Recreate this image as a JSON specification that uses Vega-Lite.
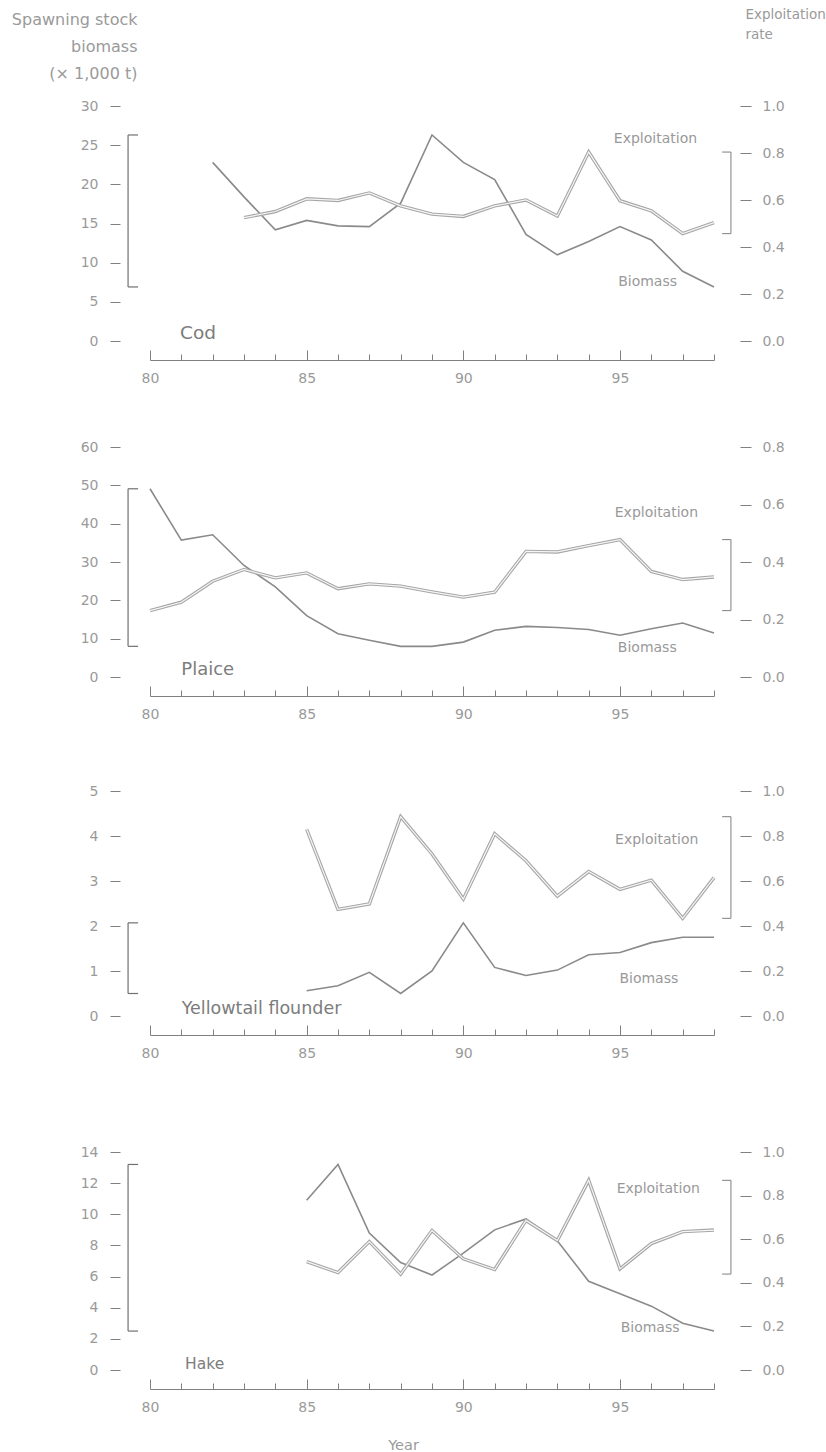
{
  "$schema": "https://vega.github.io/schema/vega-lite/v6.json",
  "padding": {"left": 11, "top": 7, "right": 0, "bottom": 0},
  "spacing": 51,
  "datasets": {
    "stock": [
      {"species": "Cod", "year": 82, "biomass": 22.8, "exploitation": null},
      {"species": "Cod", "year": 83, "biomass": 18.4, "exploitation": 0.525},
      {"species": "Cod", "year": 84, "biomass": 14.2, "exploitation": 0.551},
      {"species": "Cod", "year": 85, "biomass": 15.4, "exploitation": 0.605},
      {"species": "Cod", "year": 86, "biomass": 14.7, "exploitation": 0.598},
      {"species": "Cod", "year": 87, "biomass": 14.6, "exploitation": 0.63},
      {"species": "Cod", "year": 88, "biomass": 17.6, "exploitation": 0.575},
      {"species": "Cod", "year": 89, "biomass": 26.3, "exploitation": 0.54},
      {"species": "Cod", "year": 90, "biomass": 22.8, "exploitation": 0.53},
      {"species": "Cod", "year": 91, "biomass": 20.6, "exploitation": 0.575},
      {"species": "Cod", "year": 92, "biomass": 13.6, "exploitation": 0.6},
      {"species": "Cod", "year": 93, "biomass": 11.0, "exploitation": 0.532},
      {"species": "Cod", "year": 94, "biomass": 12.7, "exploitation": 0.804},
      {"species": "Cod", "year": 95, "biomass": 14.6, "exploitation": 0.597},
      {"species": "Cod", "year": 96, "biomass": 12.9, "exploitation": 0.554},
      {"species": "Cod", "year": 97, "biomass": 8.9, "exploitation": 0.457},
      {"species": "Cod", "year": 98, "biomass": 6.9, "exploitation": 0.504},
      {"species": "Plaice", "year": 80, "biomass": 49.1, "exploitation": 0.231},
      {"species": "Plaice", "year": 81, "biomass": 35.7, "exploitation": 0.26},
      {"species": "Plaice", "year": 82, "biomass": 37.1, "exploitation": 0.333},
      {"species": "Plaice", "year": 83, "biomass": 29.1, "exploitation": 0.374},
      {"species": "Plaice", "year": 84, "biomass": 23.5, "exploitation": 0.345},
      {"species": "Plaice", "year": 85, "biomass": 16.0, "exploitation": 0.362},
      {"species": "Plaice", "year": 86, "biomass": 11.3, "exploitation": 0.307},
      {"species": "Plaice", "year": 87, "biomass": 9.6, "exploitation": 0.324},
      {"species": "Plaice", "year": 88, "biomass": 8.0, "exploitation": 0.316},
      {"species": "Plaice", "year": 89, "biomass": 8.0, "exploitation": 0.296},
      {"species": "Plaice", "year": 90, "biomass": 9.1, "exploitation": 0.278},
      {"species": "Plaice", "year": 91, "biomass": 12.2, "exploitation": 0.295},
      {"species": "Plaice", "year": 92, "biomass": 13.2, "exploitation": 0.437},
      {"species": "Plaice", "year": 93, "biomass": 12.9, "exploitation": 0.435},
      {"species": "Plaice", "year": 94, "biomass": 12.4, "exploitation": 0.457},
      {"species": "Plaice", "year": 95, "biomass": 10.9, "exploitation": 0.478},
      {"species": "Plaice", "year": 96, "biomass": 12.6, "exploitation": 0.367},
      {"species": "Plaice", "year": 97, "biomass": 14.1, "exploitation": 0.339},
      {"species": "Plaice", "year": 98, "biomass": 11.5, "exploitation": 0.348},
      {"species": "Yellowtail flounder", "year": 85, "biomass": 0.56, "exploitation": 0.83},
      {"species": "Yellowtail flounder", "year": 86, "biomass": 0.67, "exploitation": 0.474},
      {"species": "Yellowtail flounder", "year": 87, "biomass": 0.97, "exploitation": 0.498},
      {"species": "Yellowtail flounder", "year": 88, "biomass": 0.5, "exploitation": 0.886},
      {"species": "Yellowtail flounder", "year": 89, "biomass": 1.0, "exploitation": 0.72},
      {"species": "Yellowtail flounder", "year": 90, "biomass": 2.07, "exploitation": 0.52},
      {"species": "Yellowtail flounder", "year": 91, "biomass": 1.08, "exploitation": 0.81},
      {"species": "Yellowtail flounder", "year": 92, "biomass": 0.9, "exploitation": 0.69},
      {"species": "Yellowtail flounder", "year": 93, "biomass": 1.02, "exploitation": 0.533},
      {"species": "Yellowtail flounder", "year": 94, "biomass": 1.36, "exploitation": 0.642},
      {"species": "Yellowtail flounder", "year": 95, "biomass": 1.41, "exploitation": 0.563},
      {"species": "Yellowtail flounder", "year": 96, "biomass": 1.63, "exploitation": 0.604},
      {"species": "Yellowtail flounder", "year": 97, "biomass": 1.75, "exploitation": 0.434},
      {"species": "Yellowtail flounder", "year": 98, "biomass": 1.75, "exploitation": 0.615},
      {"species": "Hake", "year": 85, "biomass": 10.9, "exploitation": 0.497},
      {"species": "Hake", "year": 86, "biomass": 13.2, "exploitation": 0.447},
      {"species": "Hake", "year": 87, "biomass": 8.8, "exploitation": 0.589},
      {"species": "Hake", "year": 88, "biomass": 6.9, "exploitation": 0.44},
      {"species": "Hake", "year": 89, "biomass": 6.1, "exploitation": 0.64},
      {"species": "Hake", "year": 90, "biomass": 7.5, "exploitation": 0.51},
      {"species": "Hake", "year": 91, "biomass": 9.0, "exploitation": 0.461},
      {"species": "Hake", "year": 92, "biomass": 9.7, "exploitation": 0.686},
      {"species": "Hake", "year": 93, "biomass": 8.3, "exploitation": 0.594},
      {"species": "Hake", "year": 94, "biomass": 5.7, "exploitation": 0.87},
      {"species": "Hake", "year": 95, "biomass": 4.9, "exploitation": 0.464},
      {"species": "Hake", "year": 96, "biomass": 4.1, "exploitation": 0.58},
      {"species": "Hake", "year": 97, "biomass": 3.0, "exploitation": 0.635},
      {"species": "Hake", "year": 98, "biomass": 2.5, "exploitation": 0.642}
    ]
  },
  "vconcat": [
    {
      "width": 564, "height": 235,
      "data": {"name": "stock"},
      "transform": [{"filter": "datum.species === 'Cod'"}],
      "resolve": {"scale": {"y": "independent"}},
      "layer": [
        {"layer": [
          {"mark": {"type": "line", "color": "#8a8a8a", "strokeWidth": 1.6},
           "encoding": {
             "x": {"field": "year", "type": "quantitative", "scale": {"domain": [80, 98], "nice": false, "zero": false},
                   "axis": {"values": [80,81,82,83,84,85,86,87,88,89,90,91,92,93,94,95,96,97,98], "tickCount": 100, "labelOverlap": false, "labelExpr": "datum.value % 5 === 0 ? format(datum.value, 'd') : ''", "tickSize": {"condition": {"test": "datum.value % 5 === 0", "value": -10}, "value": -6}, "title": null}},
             "y": {"field": "biomass", "type": "quantitative", "scale": {"domain": [0, 30], "nice": false},
                   "axis": {"orient": "left", "values": [0,5,10,15,20,25,30], "format": "d", "tickCount": 100, "labelOverlap": false, "title": ["Spawning stock", "biomass", "(× 1,000 t)"], "titleAngle": 0, "titleAlign": "right", "titleBaseline": "top", "titleX": 17, "titleY": -95, "titleFontSize": 16, "titleLineHeight": 27}}
           }},
          {"mark": {"type": "rule", "color": "#707070", "strokeWidth": 1.2},
           "encoding": {"x": {"datum": 79.3}, "y": {"aggregate": "min", "field": "biomass", "type": "quantitative"}, "y2": {"aggregate": "max", "field": "biomass"}}},
          {"mark": {"type": "rule", "color": "#707070", "strokeWidth": 1.2},
           "encoding": {"x": {"datum": 79.3}, "x2": {"datum": 79.62}, "y": {"aggregate": "min", "field": "biomass", "type": "quantitative"}}},
          {"mark": {"type": "rule", "color": "#707070", "strokeWidth": 1.2},
           "encoding": {"x": {"datum": 79.3}, "x2": {"datum": 79.62}, "y": {"aggregate": "max", "field": "biomass", "type": "quantitative"}}},
          {"transform": [{"filter": "datum.year === 98"}],
           "mark": {"type": "text", "align": "right", "baseline": "middle", "fontSize": 14, "color": "#999999", "text": "Biomass"},
           "encoding": {"x": {"datum": 96.82}, "y": {"datum": 7.53}}},
          {"transform": [{"filter": "datum.year === 98"}],
           "mark": {"type": "text", "align": "left", "baseline": "alphabetic", "fontSize": 18.5, "color": "#7c7c7c", "text": "Cod", "dy": -2},
           "encoding": {"x": {"datum": 80.96}, "y": {"datum": 0}}}
        ]},
        {"layer": [
          {"mark": {"type": "line", "color": "#a6a6a6", "strokeWidth": 3.4},
           "encoding": {
             "x": {"field": "year", "type": "quantitative"},
             "y": {"field": "exploitation", "type": "quantitative", "scale": {"domain": [0, 1], "nice": false},
                   "axis": {"orient": "right", "values": [0,0.2,0.4,0.6,0.8,1.0], "tickCount": 100, "labelOverlap": false, "format": ".1f", "title": ["Exploitation", "rate"], "titleAngle": 0, "titleAlign": "left", "titleBaseline": "top", "titleX": 5, "titleY": -99, "titleFontSize": 13.5, "titleLineHeight": 20}}
           }},
          {"mark": {"type": "line", "color": "#f6f6f6", "strokeWidth": 1.2},
           "encoding": {"x": {"field": "year", "type": "quantitative"}, "y": {"field": "exploitation", "type": "quantitative"}}},
          {"mark": {"type": "rule", "color": "#8a8a8a", "strokeWidth": 1.1},
           "encoding": {"x": {"datum": 98.54}, "y": {"aggregate": "min", "field": "exploitation", "type": "quantitative"}, "y2": {"aggregate": "max", "field": "exploitation"}}},
          {"mark": {"type": "rule", "color": "#8a8a8a", "strokeWidth": 1.1},
           "encoding": {"x": {"datum": 98.26}, "x2": {"datum": 98.54}, "y": {"aggregate": "min", "field": "exploitation", "type": "quantitative"}}},
          {"mark": {"type": "rule", "color": "#8a8a8a", "strokeWidth": 1.1},
           "encoding": {"x": {"datum": 98.26}, "x2": {"datum": 98.54}, "y": {"aggregate": "max", "field": "exploitation", "type": "quantitative"}}},
          {"transform": [{"filter": "datum.year === 98"}],
           "mark": {"type": "text", "align": "right", "baseline": "middle", "fontSize": 14, "color": "#999999", "text": "Exploitation"},
           "encoding": {"x": {"datum": 97.46}, "y": {"datum": 0.86}}}
        ]}
      ]
    },
    {
      "width": 564, "height": 230,
      "data": {"name": "stock"},
      "transform": [{"filter": "datum.species === 'Plaice'"}],
      "resolve": {"scale": {"y": "independent"}},
      "layer": [
        {"layer": [
          {"mark": {"type": "line", "color": "#8a8a8a", "strokeWidth": 1.6},
           "encoding": {
             "x": {"field": "year", "type": "quantitative", "scale": {"domain": [80, 98], "nice": false, "zero": false},
                   "axis": {"values": [80,81,82,83,84,85,86,87,88,89,90,91,92,93,94,95,96,97,98], "tickCount": 100, "labelOverlap": false, "labelExpr": "datum.value % 5 === 0 ? format(datum.value, 'd') : ''", "tickSize": {"condition": {"test": "datum.value % 5 === 0", "value": -10}, "value": -6}, "title": " ", "titleFontSize": 4, "titleBaseline": "top", "titleY": 33, "titleX": 10}},
             "y": {"field": "biomass", "type": "quantitative", "scale": {"domain": [0, 60], "nice": false},
                   "axis": {"orient": "left", "values": [0,10,20,30,40,50,60], "format": "d", "tickCount": 100, "labelOverlap": false, "title": null}}
           }},
          {"mark": {"type": "rule", "color": "#707070", "strokeWidth": 1.2},
           "encoding": {"x": {"datum": 79.3}, "y": {"aggregate": "min", "field": "biomass", "type": "quantitative"}, "y2": {"aggregate": "max", "field": "biomass"}}},
          {"mark": {"type": "rule", "color": "#707070", "strokeWidth": 1.2},
           "encoding": {"x": {"datum": 79.3}, "x2": {"datum": 79.62}, "y": {"aggregate": "min", "field": "biomass", "type": "quantitative"}}},
          {"mark": {"type": "rule", "color": "#707070", "strokeWidth": 1.2},
           "encoding": {"x": {"datum": 79.3}, "x2": {"datum": 79.62}, "y": {"aggregate": "max", "field": "biomass", "type": "quantitative"}}},
          {"transform": [{"filter": "datum.year === 98"}],
           "mark": {"type": "text", "align": "right", "baseline": "middle", "fontSize": 14, "color": "#999999", "text": "Biomass"},
           "encoding": {"x": {"datum": 96.81}, "y": {"datum": 7.49}}},
          {"transform": [{"filter": "datum.year === 98"}],
           "mark": {"type": "text", "align": "left", "baseline": "alphabetic", "fontSize": 18, "color": "#7c7c7c", "text": "Plaice", "dy": -2},
           "encoding": {"x": {"datum": 81.0}, "y": {"datum": 0}}}
        ]},
        {"layer": [
          {"mark": {"type": "line", "color": "#a6a6a6", "strokeWidth": 3.4},
           "encoding": {
             "x": {"field": "year", "type": "quantitative"},
             "y": {"field": "exploitation", "type": "quantitative", "scale": {"domain": [0, 0.8], "nice": false},
                   "axis": {"orient": "right", "values": [0,0.2,0.4,0.6,0.8], "tickCount": 100, "labelOverlap": false, "format": ".1f", "title": null}}
           }},
          {"mark": {"type": "line", "color": "#f6f6f6", "strokeWidth": 1.2},
           "encoding": {"x": {"field": "year", "type": "quantitative"}, "y": {"field": "exploitation", "type": "quantitative"}}},
          {"mark": {"type": "rule", "color": "#8a8a8a", "strokeWidth": 1.1},
           "encoding": {"x": {"datum": 98.54}, "y": {"aggregate": "min", "field": "exploitation", "type": "quantitative"}, "y2": {"aggregate": "max", "field": "exploitation"}}},
          {"mark": {"type": "rule", "color": "#8a8a8a", "strokeWidth": 1.1},
           "encoding": {"x": {"datum": 98.26}, "x2": {"datum": 98.54}, "y": {"aggregate": "min", "field": "exploitation", "type": "quantitative"}}},
          {"mark": {"type": "rule", "color": "#8a8a8a", "strokeWidth": 1.1},
           "encoding": {"x": {"datum": 98.26}, "x2": {"datum": 98.54}, "y": {"aggregate": "max", "field": "exploitation", "type": "quantitative"}}},
          {"transform": [{"filter": "datum.year === 98"}],
           "mark": {"type": "text", "align": "right", "baseline": "middle", "fontSize": 14, "color": "#999999", "text": "Exploitation"},
           "encoding": {"x": {"datum": 97.49}, "y": {"datum": 0.571}}}
        ]}
      ]
    },
    {
      "width": 564, "height": 225,
      "data": {"name": "stock"},
      "transform": [{"filter": "datum.species === 'Yellowtail flounder'"}],
      "resolve": {"scale": {"y": "independent"}},
      "layer": [
        {"layer": [
          {"mark": {"type": "line", "color": "#8a8a8a", "strokeWidth": 1.6},
           "encoding": {
             "x": {"field": "year", "type": "quantitative", "scale": {"domain": [80, 98], "nice": false, "zero": false},
                   "axis": {"values": [80,81,82,83,84,85,86,87,88,89,90,91,92,93,94,95,96,97,98], "tickCount": 100, "labelOverlap": false, "labelExpr": "datum.value % 5 === 0 ? format(datum.value, 'd') : ''", "tickSize": {"condition": {"test": "datum.value % 5 === 0", "value": -10}, "value": -6}, "title": " ", "titleFontSize": 4, "titleBaseline": "top", "titleY": 55, "titleX": 10}},
             "y": {"field": "biomass", "type": "quantitative", "scale": {"domain": [0, 5], "nice": false},
                   "axis": {"orient": "left", "values": [0,1,2,3,4,5], "format": "d", "tickCount": 100, "labelOverlap": false, "title": null}}
           }},
          {"mark": {"type": "rule", "color": "#707070", "strokeWidth": 1.2},
           "encoding": {"x": {"datum": 79.3}, "y": {"aggregate": "min", "field": "biomass", "type": "quantitative"}, "y2": {"aggregate": "max", "field": "biomass"}}},
          {"mark": {"type": "rule", "color": "#707070", "strokeWidth": 1.2},
           "encoding": {"x": {"datum": 79.3}, "x2": {"datum": 79.62}, "y": {"aggregate": "min", "field": "biomass", "type": "quantitative"}}},
          {"mark": {"type": "rule", "color": "#707070", "strokeWidth": 1.2},
           "encoding": {"x": {"datum": 79.3}, "x2": {"datum": 79.62}, "y": {"aggregate": "max", "field": "biomass", "type": "quantitative"}}},
          {"transform": [{"filter": "datum.year === 98"}],
           "mark": {"type": "text", "align": "right", "baseline": "middle", "fontSize": 14, "color": "#999999", "text": "Biomass"},
           "encoding": {"x": {"datum": 96.86}, "y": {"datum": 0.816}}},
          {"transform": [{"filter": "datum.year === 98"}],
           "mark": {"type": "text", "align": "left", "baseline": "alphabetic", "fontSize": 17.5, "color": "#7c7c7c", "text": "Yellowtail flounder", "dy": -2},
           "encoding": {"x": {"datum": 81.01}, "y": {"datum": 0}}}
        ]},
        {"layer": [
          {"mark": {"type": "line", "color": "#a6a6a6", "strokeWidth": 3.4},
           "encoding": {
             "x": {"field": "year", "type": "quantitative"},
             "y": {"field": "exploitation", "type": "quantitative", "scale": {"domain": [0, 1], "nice": false},
                   "axis": {"orient": "right", "values": [0,0.2,0.4,0.6,0.8,1.0], "tickCount": 100, "labelOverlap": false, "format": ".1f", "title": null}}
           }},
          {"mark": {"type": "line", "color": "#f6f6f6", "strokeWidth": 1.2},
           "encoding": {"x": {"field": "year", "type": "quantitative"}, "y": {"field": "exploitation", "type": "quantitative"}}},
          {"mark": {"type": "rule", "color": "#8a8a8a", "strokeWidth": 1.1},
           "encoding": {"x": {"datum": 98.54}, "y": {"aggregate": "min", "field": "exploitation", "type": "quantitative"}, "y2": {"aggregate": "max", "field": "exploitation"}}},
          {"mark": {"type": "rule", "color": "#8a8a8a", "strokeWidth": 1.1},
           "encoding": {"x": {"datum": 98.26}, "x2": {"datum": 98.54}, "y": {"aggregate": "min", "field": "exploitation", "type": "quantitative"}}},
          {"mark": {"type": "rule", "color": "#8a8a8a", "strokeWidth": 1.1},
           "encoding": {"x": {"datum": 98.26}, "x2": {"datum": 98.54}, "y": {"aggregate": "max", "field": "exploitation", "type": "quantitative"}}},
          {"transform": [{"filter": "datum.year === 98"}],
           "mark": {"type": "text", "align": "right", "baseline": "middle", "fontSize": 14, "color": "#999999", "text": "Exploitation"},
           "encoding": {"x": {"datum": 97.5}, "y": {"datum": 0.782}}}
        ]}
      ]
    },
    {
      "width": 564, "height": 218,
      "data": {"name": "stock"},
      "transform": [{"filter": "datum.species === 'Hake'"}],
      "resolve": {"scale": {"y": "independent"}},
      "layer": [
        {"layer": [
          {"mark": {"type": "line", "color": "#8a8a8a", "strokeWidth": 1.6},
           "encoding": {
             "x": {"field": "year", "type": "quantitative", "scale": {"domain": [80, 98], "nice": false, "zero": false},
                   "axis": {"values": [80,81,82,83,84,85,86,87,88,89,90,91,92,93,94,95,96,97,98], "tickCount": 100, "labelOverlap": false, "labelExpr": "datum.value % 5 === 0 ? format(datum.value, 'd') : ''", "tickSize": {"condition": {"test": "datum.value % 5 === 0", "value": -10}, "value": -6}, "title": "Year", "titleFontSize": 14.5, "titleBaseline": "top", "titleAlign": "center", "titleY": 49, "titleX": 253}},
             "y": {"field": "biomass", "type": "quantitative", "scale": {"domain": [0, 14], "nice": false},
                   "axis": {"orient": "left", "values": [0,2,4,6,8,10,12,14], "format": "d", "tickCount": 100, "labelOverlap": false, "title": null}}
           }},
          {"mark": {"type": "rule", "color": "#707070", "strokeWidth": 1.2},
           "encoding": {"x": {"datum": 79.3}, "y": {"aggregate": "min", "field": "biomass", "type": "quantitative"}, "y2": {"aggregate": "max", "field": "biomass"}}},
          {"mark": {"type": "rule", "color": "#707070", "strokeWidth": 1.2},
           "encoding": {"x": {"datum": 79.3}, "x2": {"datum": 79.62}, "y": {"aggregate": "min", "field": "biomass", "type": "quantitative"}}},
          {"mark": {"type": "rule", "color": "#707070", "strokeWidth": 1.2},
           "encoding": {"x": {"datum": 79.3}, "x2": {"datum": 79.62}, "y": {"aggregate": "max", "field": "biomass", "type": "quantitative"}}},
          {"transform": [{"filter": "datum.year === 98"}],
           "mark": {"type": "text", "align": "right", "baseline": "middle", "fontSize": 14, "color": "#999999", "text": "Biomass"},
           "encoding": {"x": {"datum": 96.9}, "y": {"datum": 2.68}}},
          {"transform": [{"filter": "datum.year === 98"}],
           "mark": {"type": "text", "align": "left", "baseline": "alphabetic", "fontSize": 15.5, "color": "#7c7c7c", "text": "Hake", "dy": -1},
           "encoding": {"x": {"datum": 81.12}, "y": {"datum": 0}}}
        ]},
        {"layer": [
          {"mark": {"type": "line", "color": "#a6a6a6", "strokeWidth": 3.4},
           "encoding": {
             "x": {"field": "year", "type": "quantitative"},
             "y": {"field": "exploitation", "type": "quantitative", "scale": {"domain": [0, 1], "nice": false},
                   "axis": {"orient": "right", "values": [0,0.2,0.4,0.6,0.8,1.0], "tickCount": 100, "labelOverlap": false, "format": ".1f", "title": null}}
           }},
          {"mark": {"type": "line", "color": "#f6f6f6", "strokeWidth": 1.2},
           "encoding": {"x": {"field": "year", "type": "quantitative"}, "y": {"field": "exploitation", "type": "quantitative"}}},
          {"mark": {"type": "rule", "color": "#8a8a8a", "strokeWidth": 1.1},
           "encoding": {"x": {"datum": 98.54}, "y": {"aggregate": "min", "field": "exploitation", "type": "quantitative"}, "y2": {"aggregate": "max", "field": "exploitation"}}},
          {"mark": {"type": "rule", "color": "#8a8a8a", "strokeWidth": 1.1},
           "encoding": {"x": {"datum": 98.26}, "x2": {"datum": 98.54}, "y": {"aggregate": "min", "field": "exploitation", "type": "quantitative"}}},
          {"mark": {"type": "rule", "color": "#8a8a8a", "strokeWidth": 1.1},
           "encoding": {"x": {"datum": 98.26}, "x2": {"datum": 98.54}, "y": {"aggregate": "max", "field": "exploitation", "type": "quantitative"}}},
          {"transform": [{"filter": "datum.year === 98"}],
           "mark": {"type": "text", "align": "right", "baseline": "middle", "fontSize": 14, "color": "#999999", "text": "Exploitation"},
           "encoding": {"x": {"datum": 97.55}, "y": {"datum": 0.829}}}
        ]}
      ]
    }
  ],
  "config": {
    "view": {"stroke": null},
    "font": "DejaVu Sans",
    "text": {"font": "DejaVu Sans"},
    "axis": {"grid": false, "tickCount": 100, "labelOverlap": false, "labelFont": "DejaVu Sans", "labelFontSize": 14, "labelColor": "#9a9a9a", "tickColor": "#808080", "tickWidth": 1, "titleFont": "DejaVu Sans", "titleFontWeight": "normal", "titleColor": "#9a9a9a"},
    "axisX": {"offset": 19, "domainColor": "#808080", "domainWidth": 1.2, "labelPadding": 21, "labelFlush": false, "labelOverlap": false, "labelAngle": 0},
    "axisLeft": {"offset": 30, "domain": false, "tickSize": 10, "labelPadding": 12},
    "axisRight": {"offset": 26, "domain": false, "tickSize": 11, "labelPadding": 11}
  }
}
